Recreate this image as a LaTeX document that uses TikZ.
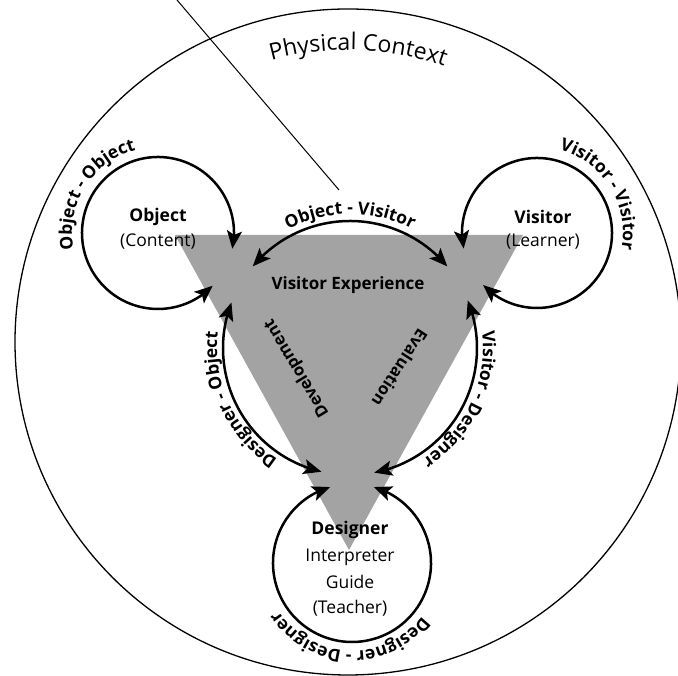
\documentclass[tikz,border=0pt]{standalone}
\usepackage{fontspec}
\setmainfont{Open Sans}
\usetikzlibrary{arrows.meta,decorations.text,bending}
\newcommand{\lblfont}{\fontsize{17.5}{18}\selectfont\bfseries}
\newcommand{\txtfont}{\fontsize{17.5}{22}\selectfont}
\newcommand{\pcfont}{\fontsize{23}{23}\selectfont}
\begin{document}
\begin{tikzpicture}[x=1pt,y=1pt,
  twoway/.style={line width=2.5pt,{Stealth[length=18pt,width=15pt,inset=4pt]}-{Stealth[length=18pt,width=15pt,inset=4pt]}},
  boldtxt/.style={font=\txtfont\bfseries,inner sep=0pt},
  plaintxt/.style={font=\txtfont,inner sep=0pt}]
\clip (0,0) rectangle (678,676);
\useasboundingbox (0,0) rectangle (678,676);
% named centres
\coordinate (bc) at (348,334);
\coordinate (ic) at (350,328);
\coordinate (objc) at (158,443);
\coordinate (visc) at (537,443);
\coordinate (desc) at (352,113);
\coordinate (tl) at (175,441);
\coordinate (tr) at (523,441);
\coordinate (tb) at (349,126);
\coordinate (lt) at (177,676);
\coordinate (lb) at (339,486);
% triangle
\fill[black!36] (tl) -- (tr) -- (tb) -- cycle;
% big circle
\draw[line width=1.3pt] (bc) circle[radius=333];
% pointer line
\draw[line width=1pt] (lt) -- (lb);
% loops
\draw[twoway] ([shift={(-12:76)}]objc) arc[start angle=-12,end angle=316,radius=76];
\draw[twoway] ([shift={(192:75)}]visc) arc[start angle=192,end angle=-136,radius=75];
\draw[twoway] ([shift={(106:79)}]desc) arc[start angle=106,end angle=434,radius=79];
% inner arcs
\draw[twoway] ([shift={(40:127)}]ic) arc[start angle=40,end angle=140,radius=127];
\draw[twoway] ([shift={(159:127)}]ic) arc[start angle=159,end angle=257,radius=127];
\draw[twoway] ([shift={(281:127)}]ic) arc[start angle=281,end angle=382,radius=127];
% node texts
\node[boldtxt] (obj) at (158,459) {Object};
\node[plaintxt] (objsub) at (158,434) {(Content)};
\node[boldtxt] (vis) at (543,459) {Visitor};
\node[plaintxt] (vissub) at (543,434) {(Learner)};
\node[boldtxt,font=\fontsize{17}{17}\selectfont\bfseries] (vexp) at (348,391) {Visitor Experience};
\node[boldtxt] (des) at (350,146) {Designer};
\node[plaintxt] (interp) at (350,119) {Interpreter};
\node[plaintxt] (guide) at (350,94) {Guide};
\node[plaintxt] (teach) at (350,68) {(Teacher)};
\node[font=\fontsize{16.5}{17}\selectfont\bfseries,rotate=121] (dev) at (297,308) {Development};
\node[font=\fontsize{16.5}{17}\selectfont\bfseries,rotate=237] (eva) at (400,308) {Evaluation};
% curved labels
\path[decorate,decoration={text along path,text align=center,text={|\pcfont|Physical Context}}]
  ([shift={(118:292)}]bc) arc[start angle=118,end angle=58,radius=292];
\path[decorate,decoration={text along path,text align=center,text={|\lblfont|Object - Object}}]
  ([shift={(208:86)}]objc) arc[start angle=208,end angle=88,radius=86];
\path[decorate,decoration={text along path,text align=center,text={|\lblfont|Visitor - Visitor}}]
  ([shift={(92:86)}]visc) arc[start angle=92,end angle=-28,radius=86];
\path[decorate,decoration={text along path,text align=center,text={|\lblfont|Object - Visitor}}]
  ([shift={(150:134)}]ic) arc[start angle=150,end angle=30,radius=134];
\path[decorate,decoration={text along path,text align=center,text={|\lblfont|Designer - Object}}]
  ([shift={(265:133)}]ic) arc[start angle=265,end angle=145,radius=133];
\path[decorate,decoration={text along path,text align=center,text={|\lblfont|Visitor - Designer}}]
  ([shift={(35:133)}]ic) arc[start angle=35,end angle=-85,radius=133];
\path[decorate,decoration={text along path,text align=center,text={|\lblfont|Designer - Designer}}]
  ([shift={(-12:88)}]desc) arc[start angle=-12,end angle=-172,radius=88];
\end{tikzpicture}
\end{document}
